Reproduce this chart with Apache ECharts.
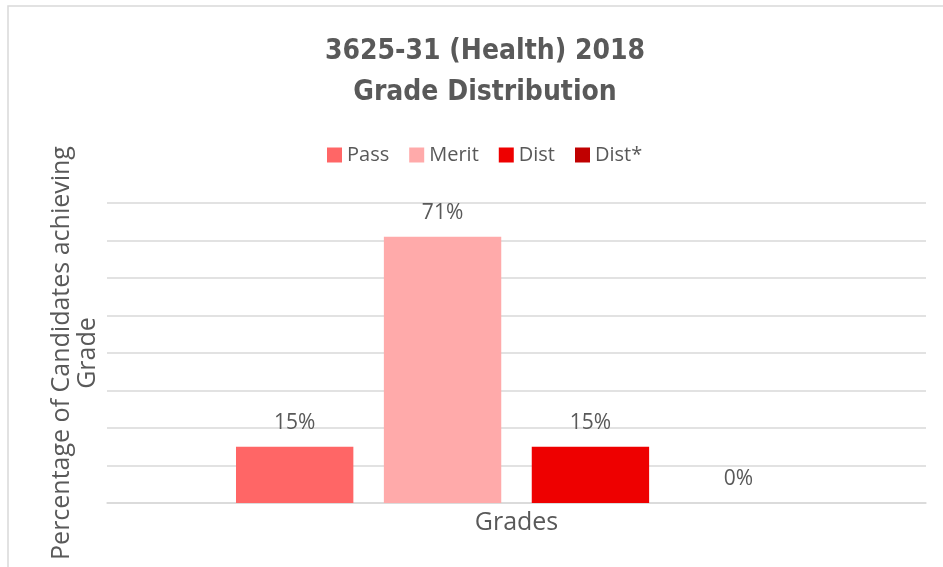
<!DOCTYPE html>
<html>
<head>
<meta charset="utf-8">
<script src="https://cdn.jsdelivr.net/npm/echarts@6/dist/echarts.min.js"></script>
<style>
    html, body { margin: 0; padding: 0; background: #fff; }
    #main { width: 943px; height: 567px; }
</style>
</head>
<body>
<div id="main"></div>
<script>
// 数据
const categories = ['Grades']
const seriesNames = ['Pass', 'Merit', 'Dist', 'Dist*']
const seriesValues = [15, 71, 15, 0]
const seriesColors = ['#ff6666', '#ffaaaa', '#ee0000', '#c00000']

let chart = echarts.init(document.getElementById('main'))

let series = []
for (let i in seriesNames) {
    series.push({
        name: seriesNames[i],
        type: 'bar',
        data: [seriesValues[i]],
        barGap: '26%',
        barCategoryGap: '31.5%',
        itemStyle: { color: seriesColors[i] },
        label: {
            show: true,
            position: 'top',
            distance: 13,
            formatter: '{c}%',
            color: '#595959',
            fontSize: 21,
            fontFamily: 'Open Sans'
        }
    })
}

let option = {
    animation: false,
    backgroundColor: '#fff',
    title: {
        text: '3625-31 (Health) 2018\nGrade Distribution',
        left: 480,
        textAlign: 'center',
        top: 26,
        textStyle: {
            fontFamily: 'DejaVu Sans Condensed',
            fontWeight: 'bold',
            fontSize: 28,
            lineHeight: 41,
            color: '#595959'
        }
    },
    legend: {
        data: seriesNames,
        top: 140,
        left: 322,
        itemWidth: 15,
        itemHeight: 15,
        itemGap: 20,
        icon: 'rect',
        textStyle: { color: '#595959', fontSize: 20, fontFamily: 'Open Sans' }
    },
    grid: { left: 107, right: 17, top: 203, bottom: 64, outerBoundsMode: 'none', containLabel: false },
    xAxis: {
        type: 'category',
        data: categories,
        name: 'Grades',
        nameLocation: 'middle',
        nameGap: 7,
        nameTextStyle: { color: '#595959', fontSize: 25, fontFamily: 'Open Sans' },
        axisLabel: { show: false },
        axisTick: { show: false },
        axisLine: { lineStyle: { color: '#d9d9d9', width: 1.5 } }
    },
    yAxis: {
        type: 'value',
        min: 0,
        max: 80,
        interval: 10,
        name: 'Percentage of Candidates achieving\nGrade',
        nameLocation: 'middle',
        nameRotate: 90,
        nameGap: 6,
        nameTextStyle: { color: '#595959', fontSize: 25, lineHeight: 26, fontFamily: 'Open Sans' },
        axisLabel: { show: false },
        axisTick: { show: false },
        axisLine: { show: false },
        splitLine: { lineStyle: { color: '#d9d9d9', width: 1.5 } }
    },
    graphic: [{
        type: 'rect',
        shape: { x: 8, y: 6, width: 1000, height: 700 },
        style: { fill: 'none', stroke: '#d9d9d9', lineWidth: 1.5 },
        silent: true
    }],
    series: series
}
chart.setOption(option)
</script>
</body>
</html>
